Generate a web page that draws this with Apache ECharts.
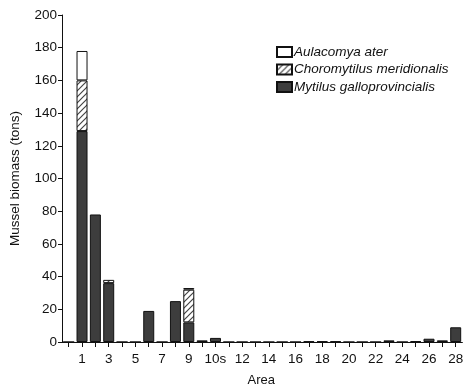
<!DOCTYPE html>
<html>
<head>
<meta charset="utf-8">
<script src="https://cdn.jsdelivr.net/npm/echarts@6/dist/echarts.min.js"></script>
<style>
html,body{margin:0;padding:0;background:#fff;}
#main{width:466px;height:392px;}
</style>
</head>
<body>
<div id="main"></div>
<script>
// area categories, "10s" sits between 10 and 11
var areas = ['0','1','2','3','4','5','6','7','8','9','10','10s','11','12','13','14','15','16','17','18','19','20','21','22','23','24','25','26','27','28'];
var mytilus =      [0,129,78,36,0,0,19,0,25,12,1,2.5,0,0,0,0,0,0,0.4,0.4,0.4,0,0,0,1,0,0.5,2,1,9];
var choromytilus = ['-',31,'-',2,'-','-','-','-','-',20,'-','-','-','-','-','-','-','-','-','-','-','-','-','-','-','-','-','-','-','-'];
var aulacomya =    ['-',18,'-','-','-','-','-','-','-',1,'-','-','-','-','-','-','-','-','-','-','-','-','-','-','-','-','-','-','-','-'];

var FONT = '"Liberation Sans", Arial, sans-serif';

// hatch pattern for Choromytilus
function hatch() {
    var c = document.createElement('canvas');
    c.width = 6; c.height = 6;
    var g = c.getContext('2d');
    g.fillStyle = '#fff';
    g.fillRect(0, 0, 6, 6);
    g.strokeStyle = '#444';
    g.lineWidth = 1.2;
    g.beginPath();
    g.moveTo(0, 6); g.lineTo(6, 0);
    g.moveTo(-3, 3); g.lineTo(3, -3);
    g.moveTo(3, 9); g.lineTo(9, 3);
    g.stroke();
    return c;
}

var chart = echarts.init(document.getElementById('main'));
var option = {
    animation: false,
    grid: {left: 61, right: -8, top: 15, bottom: 50},
    legend: {
        orient: 'vertical',
        left: 271, top: 40,
        itemWidth: 15, itemHeight: 10, itemGap: 3.5,
        icon: 'rect',
        textStyle: {fontFamily: FONT, fontSize: 13.5, lineHeight: 14, fontStyle: 'italic', color: '#111', padding: [0, 0, 0, -3]},
        data: ['Aulacomya ater', 'Choromytilus meridionalis', 'Mytilus galloprovincialis']
    },
    xAxis: {
        type: 'category',
        data: areas,
        name: 'Area',
        nameLocation: 'middle',
        nameGap: 32,
        nameTextStyle: {fontFamily: FONT, fontSize: 13, color: '#111', padding: [0, 0, 0, -2]},
        axisLine: {lineStyle: {color: '#111', width: 1}},
        axisTick: {show: true, alignWithLabel: true, interval: 0, length: 5, lineStyle: {color: '#111'}},
        axisLabel: {
            fontFamily: FONT, fontSize: 13.5, color: '#111', margin: 10,
            interval: function (i) { return i % 2 === 1; }
        }
    },
    yAxis: {
        type: 'value',
        min: 0, max: 200, interval: 20,
        name: 'Mussel biomass (tons)',
        nameLocation: 'middle',
        nameGap: 40,
        nameTextStyle: {fontFamily: FONT, fontSize: 13.5, color: '#111'},
        axisLine: {show: true, lineStyle: {color: '#111', width: 1}},
        axisTick: {show: true, length: 4, lineStyle: {color: '#111'}},
        splitLine: {show: false},
        axisLabel: {fontFamily: FONT, fontSize: 13.5, color: '#111', margin: 5}
    },
    series: [
        {
            name: 'Mytilus galloprovincialis', type: 'bar', stack: 'a', barWidth: 11,
            itemStyle: {color: '#3d3d3d', borderColor: '#111', borderWidth: 1},
            data: mytilus
        },
        {
            name: 'Choromytilus meridionalis', type: 'bar', stack: 'a', barWidth: 11,
            itemStyle: {color: {image: hatch(), repeat: 'repeat'}, borderColor: '#111', borderWidth: 1},
            data: choromytilus
        },
        {
            name: 'Aulacomya ater', type: 'bar', stack: 'a', barWidth: 11,
            itemStyle: {color: '#fff', borderColor: '#111', borderWidth: 1},
            data: aulacomya
        }
    ]
};
chart.setOption(option);
</script>
</body>
</html>
